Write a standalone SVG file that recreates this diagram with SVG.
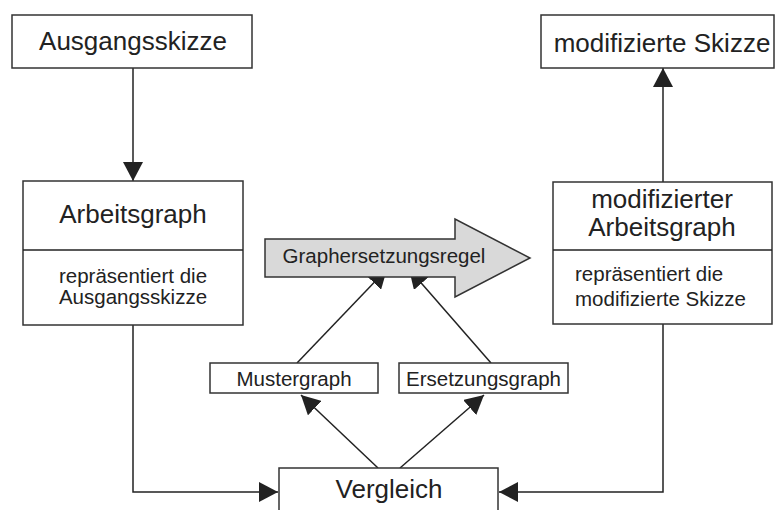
<svg xmlns="http://www.w3.org/2000/svg" width="776" height="510" viewBox="0 0 776 510">
  <style>
    .box { fill: #ffffff; stroke: #333333; stroke-width: 1.5; }
    .line { fill: none; stroke: #222222; stroke-width: 1.5; }
    .big { font-family: "Liberation Sans", Arial, sans-serif; font-size: 26px; fill: #222222; }
    .small { font-family: "Liberation Sans", Arial, sans-serif; font-size: 20.5px; fill: #222222; }
    .rule { fill: #d9d9d9; stroke: #333333; stroke-width: 1.5; }
  </style>
  <defs>
    <marker id="head" viewBox="0 0 19 20" refX="19" refY="10" markerWidth="19" markerHeight="20" markerUnits="userSpaceOnUse" orient="auto">
      <path d="M0,0 L19,10 L0,20 Z" fill="#222222"/>
    </marker>
  </defs>

  <g id="connectors">
    <path class="line" d="M133,68 V181" marker-end="url(#head)"/>
    <path class="line" d="M663,182 V68" marker-end="url(#head)"/>
    <path class="line" d="M133,325 V492 H278" marker-end="url(#head)"/>
    <path class="line" d="M663,324 V492 H499" marker-end="url(#head)"/>
    <path class="line" d="M378,468 L301,395" marker-end="url(#head)"/>
    <path class="line" d="M400,468 L484,395" marker-end="url(#head)"/>
    <path class="line" d="M297,363 L387,269" marker-end="url(#head)"/>
    <path class="line" d="M491,363 L409,269" marker-end="url(#head)"/>
  </g>

  <g id="ausgangsskizze">
    <rect class="box" x="12" y="15" width="240" height="53"/>
    <text class="big" x="133" y="50" text-anchor="middle">Ausgangsskizze</text>
  </g>

  <g id="modifizierte-skizze">
    <rect class="box" x="541" y="15" width="233" height="53"/>
    <text class="big" x="662" y="52" text-anchor="middle">modifizierte Skizze</text>
  </g>

  <g id="arbeitsgraph">
    <rect class="box" x="23" y="181" width="220" height="144"/>
    <line class="line" x1="23" y1="250" x2="243" y2="250"/>
    <text class="big" x="133" y="223" text-anchor="middle">Arbeitsgraph</text>
    <text class="small" x="133" y="283" text-anchor="middle">repräsentiert die</text>
    <text class="small" x="133" y="304" text-anchor="middle">Ausgangsskizze</text>
  </g>

  <g id="modifizierter-arbeitsgraph">
    <rect class="box" x="553" y="182" width="219" height="142"/>
    <line class="line" x1="553" y1="250" x2="772" y2="250"/>
    <text class="big" x="662" y="208" text-anchor="middle">modifizierter</text>
    <text class="big" x="662" y="236" text-anchor="middle">Arbeitsgraph</text>
    <text class="small" x="575" y="281">repräsentiert die</text>
    <text class="small" x="575" y="306">modifizierte Skizze</text>
  </g>

  <g id="graphersetzungsregel">
    <path class="rule" d="M265,239 H455 V219 L530,258 L455,297 V277 H265 Z"/>
    <text class="small" x="384" y="263" text-anchor="middle">Graphersetzungsregel</text>
  </g>

  <g id="mustergraph">
    <rect class="box" x="210" y="363" width="168" height="30"/>
    <text class="small" x="294" y="386" text-anchor="middle">Mustergraph</text>
  </g>

  <g id="ersetzungsgraph">
    <rect class="box" x="399" y="363" width="169" height="30"/>
    <text class="small" x="483.5" y="386" text-anchor="middle">Ersetzungsgraph</text>
  </g>

  <g id="vergleich">
    <rect class="box" x="279" y="468" width="219" height="60"/>
    <text class="big" x="389" y="498" text-anchor="middle">Vergleich</text>
  </g>
</svg>
